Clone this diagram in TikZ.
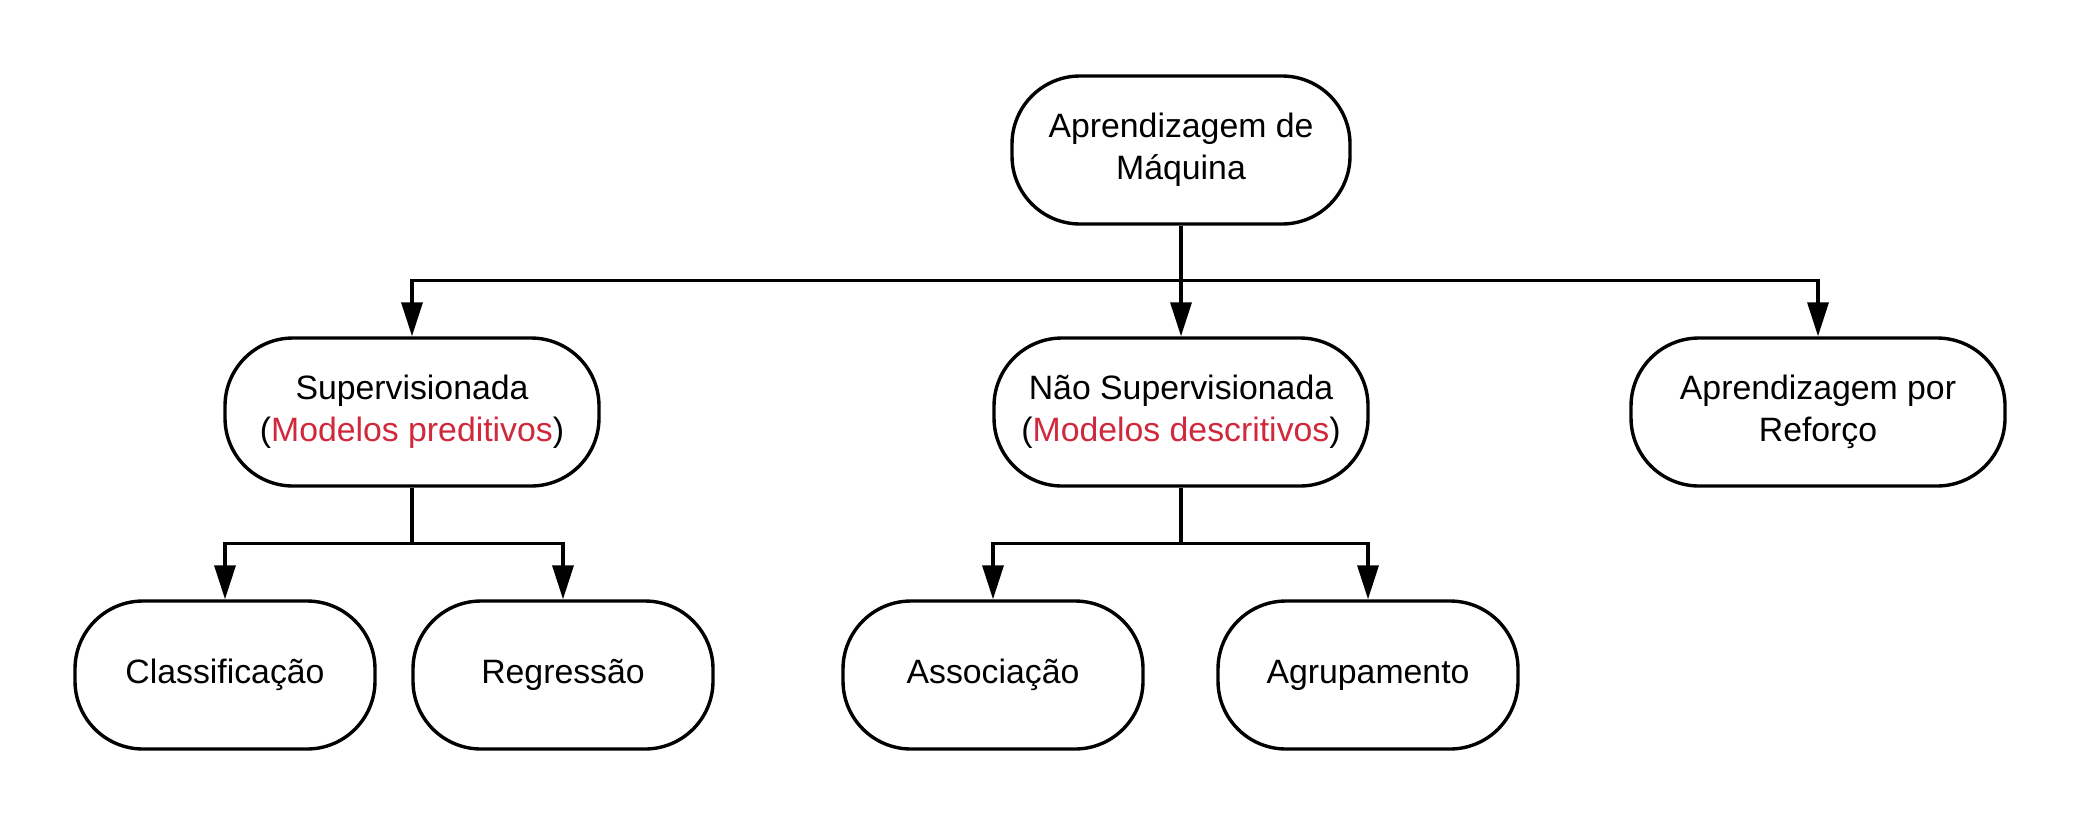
\documentclass[tikz,border=0pt]{standalone}
\usepackage{fontspec}
\setmainfont{Liberation Sans}
\usetikzlibrary{arrows.meta,positioning}
\definecolor{modelred}{RGB}{208,40,60}
\tikzset{
  term/.style={
    rectangle, rounded corners=34pt, draw=black, line width=1.7pt,
    fill=white, align=center, inner sep=0pt,
    minimum width=187pt, minimum height=74pt,
    font=\fontsize{16.9}{21}\selectfont
  },
  root/.style={term, minimum width=169pt},
  leaf/.style={term, minimum width=150pt},
  arr/.style={-{Triangle[length=17pt,width=10.5pt]}, line width=1.7pt}
}

\begin{document}
\begin{tikzpicture}[x=0.5pt, y=-0.5pt]
  \useasboundingbox (0,0) rectangle (2081,825);

  % root
  \node[root] (ml) at (1181,150) {Aprendizagem de\\Máquina};

  % second level
  \node[term] (sup)  at (412,412)  {Supervisionada\\(\textcolor{modelred}{Modelos preditivos})};
  \node[term] (nsup) at (1181,412) {Não Supervisionada\\(\textcolor{modelred}{Modelos descritivos})};
  \node[term] (ref)  at (1818,412) {Aprendizagem por\\Reforço};

  % leaves
  \node[leaf] (cls) at (225,675)  {Classificação};
  \node[leaf] (reg) at (563,675)  {Regressão};
  \node[leaf] (asc) at (993,675)  {Associação};
  \node[leaf] (agr) at (1368,675) {Agrupamento};

  \foreach \b in {sup, nsup, ref}{
    \draw[arr] (ml.south) -- ++(0,55) -| (\b.north);
  }
  \foreach \a/\b in {sup/cls, sup/reg, nsup/asc, nsup/agr}{
    \draw[arr] (\a.south) -- ++(0,56) -| (\b.north);
  }
\end{tikzpicture}
\end{document}
